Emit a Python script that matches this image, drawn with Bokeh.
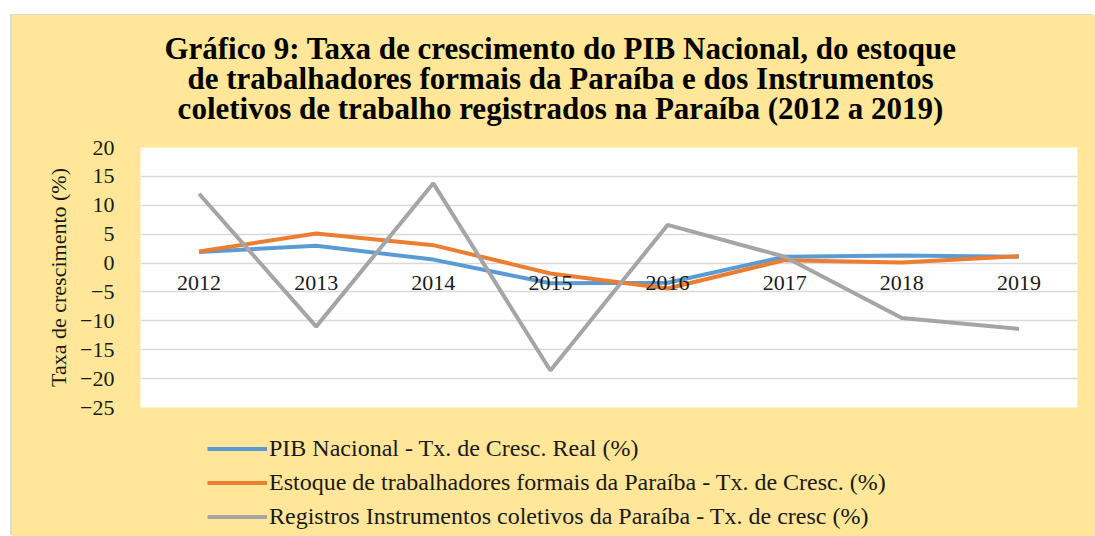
from bokeh.plotting import figure
from bokeh.layouts import column
from bokeh.models import FixedTicker, Legend, LegendItem, Range1d, Label
from bokeh.core.properties import value
from bokeh.embed import file_html
from bokeh.resources import INLINE

years = ["2012", "2013", "2014", "2015", "2016", "2017", "2018", "2019"]
pib = [1.9, 3.0, 0.6, -3.5, -3.4, 1.1, 1.3, 1.1]
estoque = [2.0, 5.1, 3.1, -1.8, -4.4, 0.5, 0.1, 1.2]
registros = [12.0, -11.0, 13.8, -18.6, 6.6, 1.1, -9.5, -11.4]
y_ticks = [-25, -20, -15, -10, -5, 0, 5, 10, 15, 20]
zero_line = [0] * len(years)

title_lines = [
    "Gráfico 9: Taxa de crescimento do PIB Nacional, do estoque",
    "de trabalhadores formais da Paraíba e dos Instrumentos",
    "coletivos de trabalho registrados na Paraíba (2012 a 2019)",
]
axis_title = "Taxa de crescimento (%)"
legend_labels = [
    "PIB Nacional - Tx. de Cresc. Real (%)",
    "Estoque de trabalhadores formais da Paraíba - Tx. de Cresc. (%)",
    "Registros Instrumentos coletivos da Paraíba - Tx. de cresc (%)",
]
colors = ["#5B9BD5", "#ED7D31", "#A5A5A5"]
series = [pib, estoque, registros]

SERIF = "Liberation Serif"
BG = "#FFE699"
W = 1083
BL, BR = 128, 18          # side borders shared by all three strips
FW = W - BL - BR          # frame width in px

common = dict(width=W, output_backend="svg", toolbar_location=None,
              min_border_left=BL, min_border_right=BR,
              border_fill_color=BG, outline_line_color=None)

# ---- title strip
p_top = figure(height=120, x_range=Range1d(0, FW), y_range=Range1d(120, 0),
               min_border_top=0, min_border_bottom=0,
               background_fill_color=BG, **common)
p_top.axis.visible = False
p_top.grid.visible = False
for i, line in enumerate(title_lines):
    p_top.add_layout(Label(x=420, y=33 + 30 * i, text=line,
                           text_align="center", text_baseline="middle",
                           text_font=SERIF, text_font_style="bold",
                           text_font_size="31px", text_color="black"))

# ---- main chart
p = figure(x_range=years, y_range=Range1d(-25, 20), height=285,
           min_border_top=12, min_border_bottom=13,
           background_fill_color="white", **common)
p.xaxis.visible = False
p.xgrid.visible = False
p.ygrid.ticker = FixedTicker(ticks=y_ticks)
p.ygrid.grid_line_color = "#d9d9d9"
p.ygrid.grid_line_width = 1.5

yax = p.yaxis[0]
yax.ticker = FixedTicker(ticks=y_ticks)
yax.axis_line_color = None
yax.major_tick_line_color = None
yax.minor_tick_line_color = None
yax.major_label_standoff = 20
yax.major_label_text_font = SERIF
yax.major_label_text_font_size = "22px"
yax.major_label_text_color = "#1a1a1a"
yax.axis_label = axis_title
yax.axis_label_text_font = SERIF
yax.axis_label_text_font_size = "22px"
yax.axis_label_text_font_style = "normal"
yax.axis_label_text_color = "#1a1a1a"
yax.axis_label_standoff = 6

for vals, c in zip(series, colors):
    p.line(years, vals, line_color=c, line_width=4)

p.text(x=years, y=zero_line, text=years, text_align="center", text_baseline="top",
       y_offset=13, text_font=value(SERIF), text_font_size="22px", text_color="#1a1a1a")

# ---- legend strip (hidden copies of the series supply the legend swatches)
p_leg = figure(height=116, x_range=years, y_range=Range1d(-25, 20),
               min_border_top=0, min_border_bottom=0,
               background_fill_color=BG, **common)
p_leg.axis.visible = False
p_leg.grid.visible = False
items = []
for lab, vals, c in zip(legend_labels, series, colors):
    r = p_leg.line(years, vals, line_color=c, line_width=4, visible=False)
    items.append(LegendItem(label=lab, renderers=[r]))
legend = Legend(
    items=items, location=(67, 6), orientation="vertical",
    padding=0, margin=0, spacing=7,
    glyph_width=60, glyph_height=27, label_height=27, label_standoff=2,
    label_text_font=SERIF, label_text_font_size="24px", label_text_color="#1a1a1a",
    border_line_color=None, background_fill_alpha=0, inactive_fill_alpha=0,
)
p_leg.add_layout(legend, "center")

layout = column(p_top, p, p_leg, spacing=0, margin=(15, 0, 0, 12),
                styles={"background-color": BG, "box-shadow": "-2px -1px 0 #d9d9d9"})

open("out.html", "w").write(file_html(layout, INLINE))
